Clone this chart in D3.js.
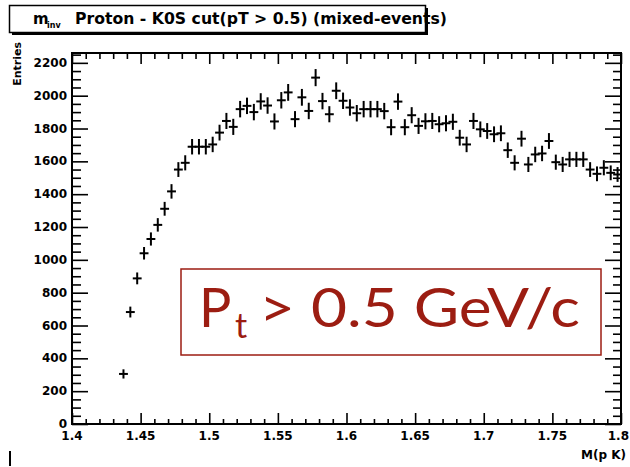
<!DOCTYPE html>
<html>
<head>
<meta charset="utf-8">
<script src="https://cdn.jsdelivr.net/npm/d3@7"></script>
<style>
  body { margin: 0; background: #fff; }
  svg text { font-family: "DejaVu Sans", sans-serif; }
</style>
</head>
<body>
<svg id="chart" width="630" height="467"></svg>
<script>
// Invariant-mass histogram: bin centres, entries and their errors
const binCenters = [
  1.4375, 1.4425, 1.4475, 1.4525, 1.4575, 1.4625, 1.4675, 1.4725, 1.4775, 1.4825,
  1.4875, 1.4925, 1.4975, 1.5025, 1.5075, 1.5125, 1.5175, 1.5225, 1.5275, 1.5325,
  1.5375, 1.5425, 1.5475, 1.5525, 1.5575, 1.5625, 1.5675, 1.5725, 1.5775, 1.5825,
  1.5875, 1.5925, 1.5975, 1.6025, 1.6075, 1.6125, 1.6175, 1.6225, 1.6275, 1.6325,
  1.6375, 1.6425, 1.6475, 1.6525, 1.6575, 1.6625, 1.6675, 1.6725, 1.6775, 1.6825,
  1.6875, 1.6925, 1.6975, 1.7025, 1.7075, 1.7125, 1.7175, 1.7225, 1.7275, 1.7325,
  1.7375, 1.7425, 1.7475, 1.7525, 1.7575, 1.7625, 1.7675, 1.7725, 1.7775, 1.7825,
  1.7875, 1.7925, 1.7975
];
const entries = [
   305,  682,  887, 1040, 1127, 1213, 1311, 1417, 1550, 1591,
  1689, 1689, 1689, 1703, 1775, 1846, 1810, 1918, 1938, 1900,
  1965, 1940, 1843, 1972, 2020, 1857, 1990, 1907, 2110, 1967,
  1887, 2030, 1969, 1928, 1893, 1918, 1918, 1918, 1906, 1808,
  1964, 1808, 1881, 1816, 1844, 1846, 1826, 1832, 1841, 1744,
  1703, 1846, 1795, 1785, 1765, 1771, 1668, 1591, 1738, 1581,
  1642, 1648, 1724, 1595, 1581, 1612, 1612, 1612, 1550, 1524,
  1561, 1530, 1520
];
const entryErrors = [
  22, 27, 30, 32, 34, 35, 36, 38, 39, 40,
  41, 41, 41, 41, 42, 43, 43, 44, 44, 44,
  44, 44, 43, 44, 45, 43, 45, 44, 46, 44,
  43, 45, 44, 44, 44, 44, 44, 44, 44, 43,
  44, 43, 43, 43, 43, 43, 43, 43, 43, 42,
  41, 43, 42, 42, 42, 42, 41, 40, 42, 40,
  41, 41, 42, 40, 40, 40, 40, 40, 39, 39,
  40, 39, 39
];
const binWidth = 0.005;

// Axis ticks and labels
const xMajorTicks = [1.4, 1.45, 1.5, 1.55, 1.6, 1.65, 1.7, 1.75, 1.8];
const xTickLabels = ["1.4", "1.45", "1.5", "1.55", "1.6", "1.65", "1.7", "1.75", "1.8"];
const yMajorTicks = [0, 200, 400, 600, 800, 1000, 1200, 1400, 1600, 1800, 2000, 2200];
const yTickLabels = ["0", "200", "400", "600", "800", "1000", "1200", "1400", "1600", "1800", "2000", "2200"];

const titleText = "Proton -  K0S cut(pT > 0.5) (mixed-events)";
const xTitle = "M(p K)";
const yTitle = "Entries";
const cutLabel = { main: "P", sub: "t", rest: "> 0.5 GeV/c" };

const svg = d3.select("#chart");
const frame = { left: 72, right: 621, top: 53, bottom: 424 };

const x = d3.scaleLinear().domain([1.4, 1.8]).range([frame.left, frame.right]);
const y = d3.scaleLinear().domain([0, 2260]).range([frame.bottom, frame.top]);

const xMinor = d3.range(1.4, 1.8001, 0.01).filter(v => !xMajorTicks.some(m => Math.abs(m - v) < 1e-6));
const yMinor = d3.range(0, 2260, 50).filter(v => v % 200 !== 0);

function styleAxis(g) {
  g.select(".domain").remove();
  g.selectAll(".tick line").attr("stroke", "#000").attr("stroke-width", 1.6);
}

// bottom axis: ticks pointing up into the frame
svg.append("g").attr("transform", `translate(0,${frame.bottom})`)
  .call(d3.axisTop(x).tickValues(xMajorTicks).tickSize(11).tickFormat(""))
  .call(styleAxis);
svg.append("g").attr("transform", `translate(0,${frame.bottom})`)
  .call(d3.axisTop(x).tickValues(xMinor).tickSize(5).tickFormat(""))
  .call(styleAxis);
// top axis: ticks pointing down
svg.append("g").attr("transform", `translate(0,${frame.top})`)
  .call(d3.axisBottom(x).tickValues(xMajorTicks).tickSize(11).tickFormat(""))
  .call(styleAxis);
svg.append("g").attr("transform", `translate(0,${frame.top})`)
  .call(d3.axisBottom(x).tickValues(xMinor).tickSize(6).tickFormat(""))
  .call(styleAxis);
// left axis: ticks pointing right
svg.append("g").attr("transform", `translate(${frame.left},0)`)
  .call(d3.axisRight(y).tickValues(yMajorTicks).tickSize(16).tickFormat(""))
  .call(styleAxis);
svg.append("g").attr("transform", `translate(${frame.left},0)`)
  .call(d3.axisRight(y).tickValues(yMinor).tickSize(9).tickFormat(""))
  .call(styleAxis);
// right axis: ticks pointing left
svg.append("g").attr("transform", `translate(${frame.right},0)`)
  .call(d3.axisLeft(y).tickValues(yMajorTicks).tickSize(16).tickFormat(""))
  .call(styleAxis);
svg.append("g").attr("transform", `translate(${frame.right},0)`)
  .call(d3.axisLeft(y).tickValues(yMinor).tickSize(8).tickFormat(""))
  .call(styleAxis);

// frame
svg.append("rect")
  .attr("x", frame.left).attr("y", frame.top)
  .attr("width", frame.right - frame.left).attr("height", frame.bottom - frame.top)
  .attr("fill", "none").attr("stroke", "#000").attr("stroke-width", 2);

// tick labels
const lastX = xMajorTicks.length - 1;
svg.append("g").selectAll("text").data(xMajorTicks).join("text")
  .attr("x", (d, i) => i === lastX ? 629 : x(d)).attr("y", 440)
  .attr("text-anchor", (d, i) => i === lastX ? "end" : "middle")
  .attr("font-size", 12).attr("font-weight", "bold")
  .text((d, i) => xTickLabels[i]);
svg.append("g").selectAll("text").data(yMajorTicks).join("text")
  .attr("x", 67).attr("y", d => y(d) + 4)
  .attr("text-anchor", "end").attr("font-size", 12).attr("font-weight", "bold")
  .text((d, i) => yTickLabels[i]);

// axis titles
svg.append("text")
  .attr("transform", "translate(21,42) rotate(-90)")
  .attr("text-anchor", "end").attr("font-size", 11).attr("font-weight", "bold")
  .text(yTitle);
svg.append("text")
  .attr("x", 626).attr("y", 459)
  .attr("text-anchor", "end").attr("font-size", 12).attr("font-weight", "bold")
  .text(xTitle);
svg.append("line")
  .attr("x1", 10).attr("x2", 10).attr("y1", 451).attr("y2", 466)
  .attr("stroke", "#000").attr("stroke-width", 2);

// histogram points with error bars
const pts = svg.append("g").attr("stroke", "#000").attr("stroke-width", 2).attr("stroke-linecap", "square");
binCenters.forEach((c, i) => {
  const v = entries[i], e = entryErrors[i];
  pts.append("line")
    .attr("x1", x(c)).attr("x2", x(c))
    .attr("y1", y(v - e)).attr("y2", y(v + e));
  pts.append("line")
    .attr("x1", x(c - binWidth / 2)).attr("x2", x(c + binWidth / 2))
    .attr("y1", y(v)).attr("y2", y(v));
});

// title box with shadow
svg.append("rect").attr("x", 12).attr("y", 8).attr("width", 416).attr("height", 27).attr("fill", "#000");
svg.append("rect").attr("x", 9.5).attr("y", 5.5).attr("width", 416).attr("height", 27)
  .attr("fill", "#fff").attr("stroke", "#000").attr("stroke-width", 1.5);
const title = svg.append("text").attr("y", 24).attr("font-size", 15).attr("font-weight", "bold");
title.append("tspan").attr("x", 33).text("m");
title.append("tspan").attr("x", 47).attr("dy", 4).attr("font-size", 8).text("inv");
title.append("tspan").attr("x", 75).attr("dy", -4)
  .attr("textLength", 372).attr("lengthAdjust", "spacingAndGlyphs").text(titleText);

// cut annotation
const red = "#9c1d12";
svg.append("rect").attr("x", 181).attr("y", 269).attr("width", 420).attr("height", 86)
  .attr("fill", "#fff").attr("stroke", red).attr("stroke-width", 1.5);
const cut = svg.append("text").attr("y", 327).attr("fill", red)
  .style("font-family", "Lato, sans-serif").attr("font-size", 54);
cut.append("tspan").attr("x", 199).text(cutLabel.main);
cut.append("tspan").attr("x", 235).attr("dy", 11).attr("font-size", 34).text(cutLabel.sub);
cut.append("tspan").attr("x", 259).attr("dy", -11)
  .attr("textLength", 321).attr("lengthAdjust", "spacingAndGlyphs").text(cutLabel.rest);
</script>
</body>
</html>
